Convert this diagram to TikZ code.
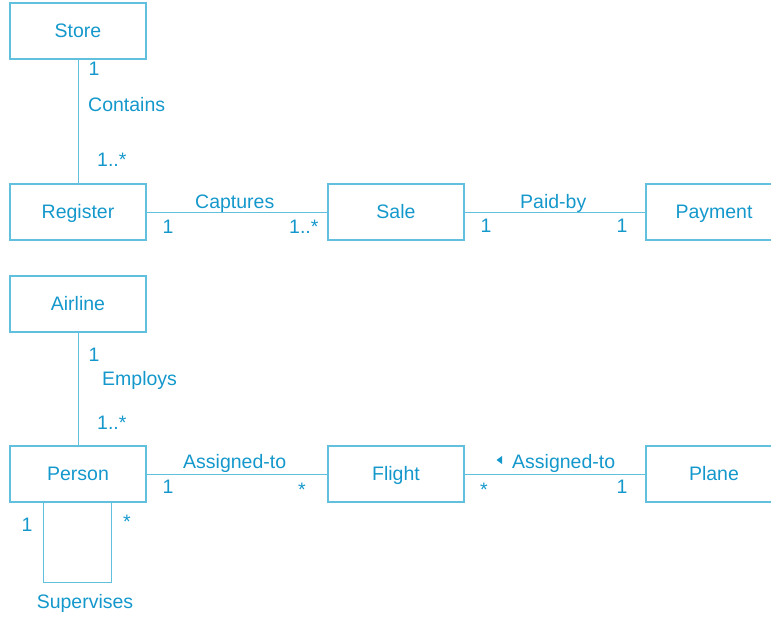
\documentclass[tikz,border=0pt]{standalone}
\usepackage{fontspec}
\setmainfont{Liberation Sans}
\definecolor{umlline}{RGB}{96,192,222}
\definecolor{umltext}{RGB}{20,152,204}
\begin{document}
\begin{tikzpicture}[x=1pt,y=-1pt,
  every node/.style={text=umltext,font=\fontsize{19.5}{22}\selectfont},
  classbox/.style={draw=umlline,line width=1.3pt,minimum width=136pt,minimum height=56pt,
    inner sep=0pt,text height=14pt,text depth=1pt},
  assoc/.style={draw=umlline,line width=1pt},
  lbl/.style={inner sep=0pt,anchor=base west},
  mult/.style={inner sep=0pt,anchor=base}]
\useasboundingbox (0,0) rectangle (771,623);
\clip (0,0) rectangle (771,623);

% classes
\node[classbox] (store)    at (78,31)   {Store};
\node[classbox] (register) at (78,212)  {Register};
\node[classbox] (sale)     at (396,212) {Sale};
\node[classbox] (payment)  at (714,212) {Payment};
\node[classbox] (airline)  at (78,304)  {Airline};
\node[classbox] (person)   at (78,474)  {Person};
\node[classbox] (flight)   at (396,474) {Flight};
\node[classbox] (plane)    at (714,474) {Plane};

% associations
\draw[assoc] (store) -- (register);
\draw[assoc] (register) -- (sale);
\draw[assoc] (sale) -- (payment);
\draw[assoc] (airline) -- (person);
\draw[assoc] (person) -- (flight);
\draw[assoc] (flight) -- (plane);
\draw[assoc] ([xshift=34pt]person.south west) -- ++(0,80) -- ++(68,0)
  -- ([xshift=102pt]person.south west);

% Store -- Register
\node[mult] (s1) at (94,76) {1};
\node[lbl] (contains) at (88,112) {Contains};
\node[lbl] (s2) at (97,167) {1..*};

% Register -- Sale
\node[lbl] (captures) at (195,208) {Captures};
\node[mult] (c1) at (168,233) {1};
\node[lbl] (c2) at (289,233) {1..*};

% Sale -- Payment
\node[lbl] (paid) at (520,208) {Paid-by};
\node[mult] (p1) at (486,232) {1};
\node[mult] (p2) at (622,232) {1};

% Airline -- Person
\node[mult] (e1) at (94,361) {1};
\node[lbl] (employs) at (102,385) {Employs};
\node[lbl] (e2) at (97,429) {1..*};

% Person -- Flight
\node[lbl] (assigned1) at (183,468) {Assigned-to};
\node[mult] (a1) at (168,493) {1};
\node[mult] (a2) at (302,496) {*};

% Flight -- Plane, with reading-direction marker
\fill[umltext] (496.5,460) -- (502,456) -- (502,464) -- cycle;
\node[lbl] (assigned2) at (512,468) {Assigned-to};
\node[mult] (b1) at (484,496) {*};
\node[mult] (b2) at (622,493) {1};

% Person supervises Person
\node[mult] (v1) at (27,531) {1};
\node[mult] (v2) at (127,528) {*};
\node[mult] (supervises) at (85,608) {Supervises};
\end{tikzpicture}
\end{document}
